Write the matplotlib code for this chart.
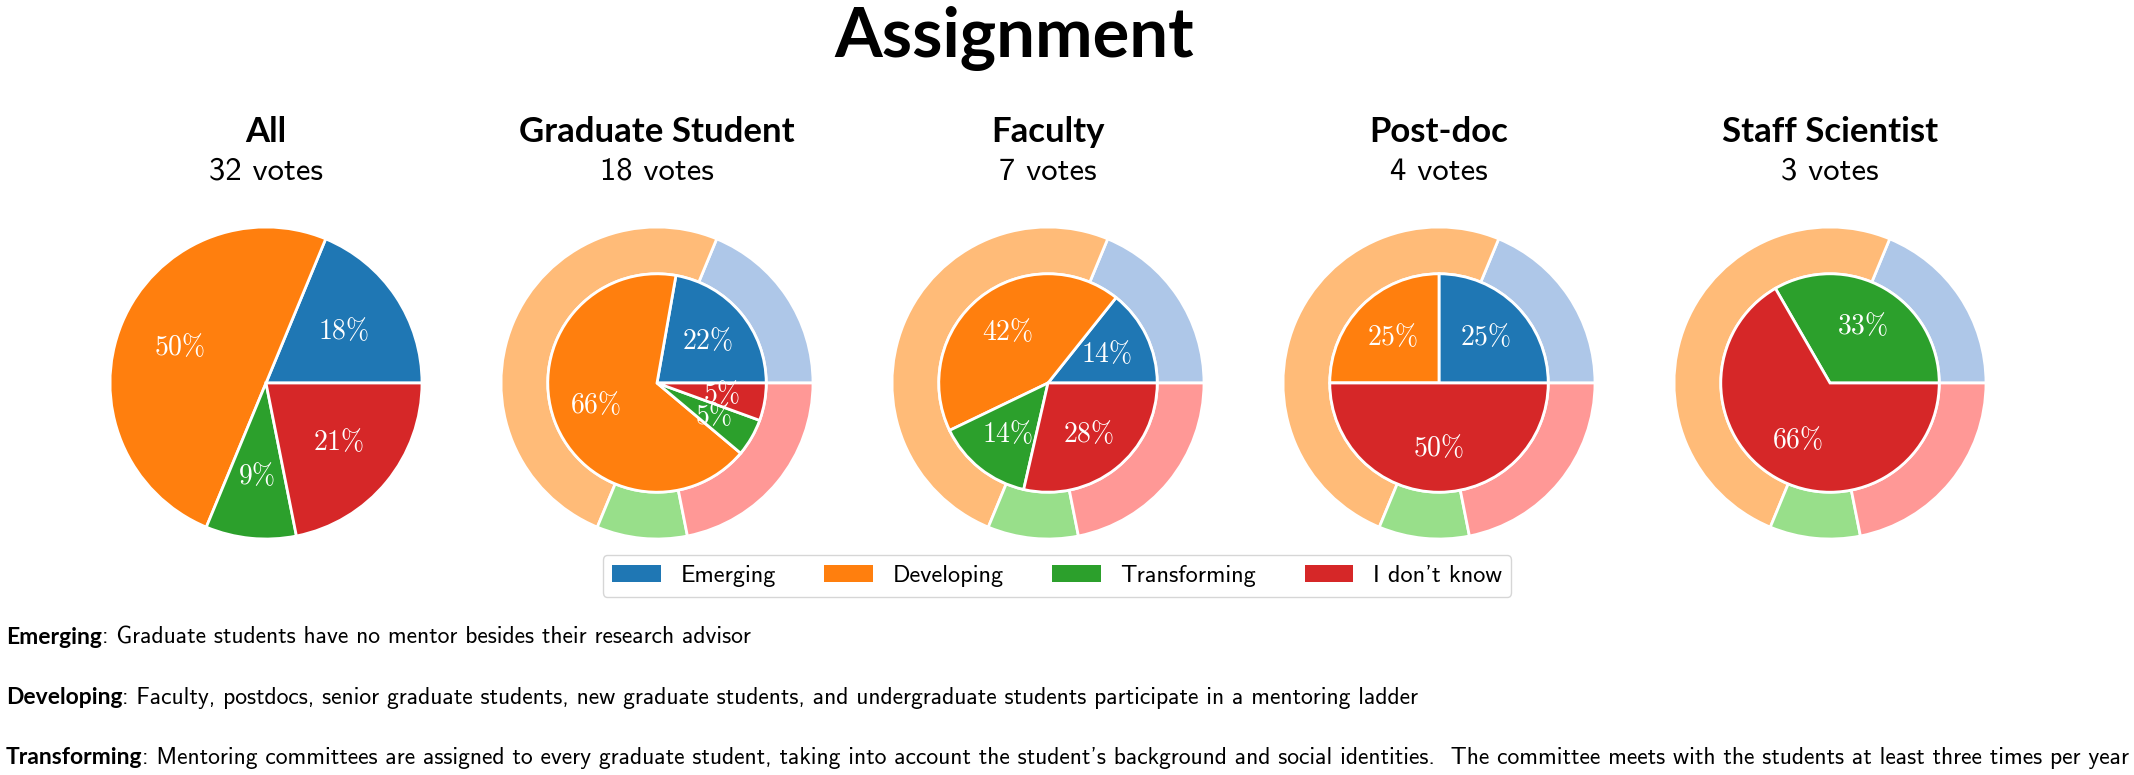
import matplotlib
matplotlib.use('Agg')
import matplotlib.pyplot as plt
from matplotlib.patches import Patch

# ---------------- data ----------------
categories = ['Emerging', 'Developing', 'Transforming', "I don't know"]
groups = ['All', 'Graduate Student', 'Faculty', 'Post-doc', 'Staff Scientist']
votes_all = [6, 16, 3, 7]
votes_grad = [4, 12, 1, 1]
votes_faculty = [1, 3, 1, 2]
votes_postdoc = [1, 1, 0, 2]
votes_staff = [0, 0, 1, 2]
group_votes = [votes_all, votes_grad, votes_faculty, votes_postdoc, votes_staff]

desc_terms = ['Emerging', 'Developing', 'Transforming']
desc_texts = [
    'Graduate students have no mentor besides their research advisor',
    'Faculty, postdocs, senior graduate students, new graduate students, and undergraduate students participate in a mentoring ladder',
    "Mentoring committees are assigned to every graduate student, taking into account the student's background and social identities.  The committee meets with the students at least three times per year",
]
title = 'Assignment'

dark = ['#1f77b4', '#ff7f0e', '#2ca02c', '#d62728']
light = ['#aec7e8', '#ffbb78', '#98df8a', '#ff9896']

# ---------------- figure ----------------
plt.rcParams['mathtext.fontset'] = 'cm'
W, H = 2134, 775
fig = plt.figure(figsize=(W / 100, H / 100), dpi=100)

SANS = 'cmss10'
BOLD = dict(family='Lato', weight='bold')


def fmt(p):
    return r'$%d\%%$' % int(p) if p > 0 else ''


R = 156
cy = 383
wp = dict(edgecolor='white', linewidth=2)
tp = dict(color='white', fontsize=20)
for i, (g, v) in enumerate(zip(groups, group_votes)):
    cx = 266 + i * 391
    ax = fig.add_axes([(cx - R) / W, (H - cy - R) / H, 2 * R / W, 2 * R / H])
    if i == 0:
        ax.pie(v, colors=dark, radius=1.0, autopct=fmt, pctdistance=0.6,
               wedgeprops=wp, textprops=tp)
    else:
        ax.pie(votes_all, colors=light, radius=1.0,
               wedgeprops=dict(width=0.3, **wp))
        ax.pie(v, colors=dark, radius=0.7, autopct=fmt, pctdistance=0.6,
               wedgeprops=wp, textprops=tp)
    ax.set_xlim(-1.0, 1.0)
    ax.set_ylim(-1.0, 1.0)
    ax.set_aspect('equal')
    ax.axis('off')
    fig.text(cx / W, 1 - 142 / H, g, ha='center', va='baseline',
             fontsize=25, **BOLD)
    fig.text(cx / W, 1 - 180 / H, f'{sum(v)} votes', ha='center',
             va='baseline', family=SANS, fontsize=23.5)

fig.text(1014 / W, 1 - 57 / H, title, ha='center', va='baseline',
         fontsize=49.5, **BOLD)

handles = [Patch(facecolor=c, label=l) for c, l in zip(dark, categories)]
fig.legend(handles=handles, loc='center', bbox_to_anchor=(1057 / W, 1 - 576 / H),
           ncol=4, prop=dict(family=SANS, size=17.5), frameon=True)

renderer = fig.canvas.get_renderer()
baselines = [644, 704, 764]
for term, txt, b in zip(desc_terms, desc_texts, baselines):
    t = fig.text(6 / W, 1 - b / H, term, ha='left', va='baseline',
                 fontsize=16.5, **BOLD)
    bb = t.get_window_extent(renderer)
    fig.text(bb.x1 / W, 1 - b / H, ': ' + txt, ha='left', va='baseline',
             family=SANS, fontsize=17)

fig.savefig('out.png', dpi=100)
